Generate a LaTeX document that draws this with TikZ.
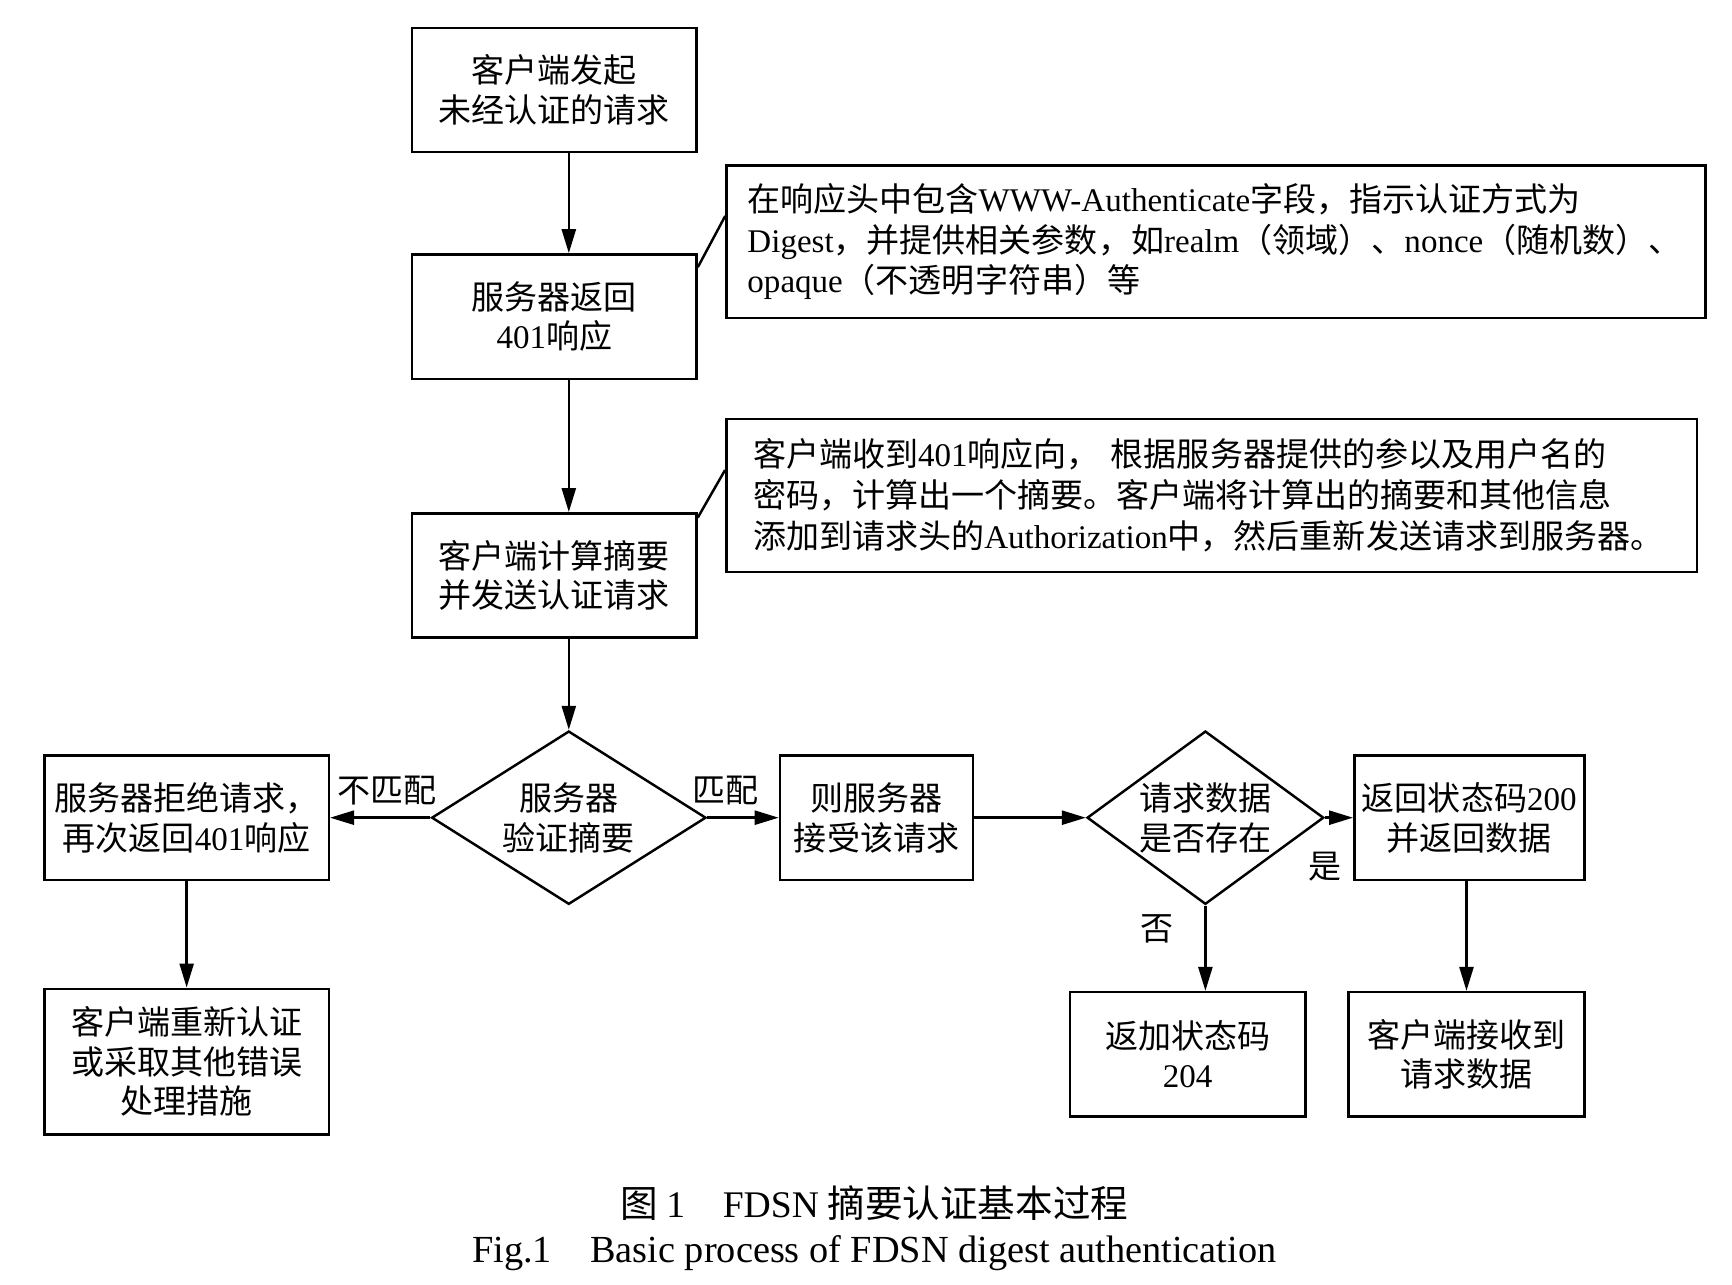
\documentclass[tikz,border=0pt]{standalone}
\usepackage{fontspec}
\setmainfont{Liberation Serif}
\newfontfamily\cjk{Noto Sans CJK SC}
\usetikzlibrary{shapes.geometric,arrows.meta}
\newcommand{\en}[1]{{\rmfamily#1}}

\tikzset{
  box/.style={draw, line width=0.7pt, minimum width=28.44mm, minimum height=12.44mm, inner sep=0pt, align=center, font=\cjk\fontsize{9.4}{11.3}\selectfont},
  note/.style={draw, line width=0.7pt, minimum height=15.22mm, align=left, font=\cjk\fontsize{9.4}{11.6}\selectfont},
  decide/.style={draw, diamond, line width=0.7pt, inner sep=0pt, minimum height=17.33mm, align=center, font=\cjk\fontsize{9.4}{11.3}\selectfont},
  arr/.style={-{Triangle[length=2.4mm,width=1.4mm]}, line width=0.7pt},
  lbl/.style={font=\cjk\fontsize{9.4}{11.3}\selectfont},
}

\begin{document}
\begin{tikzpicture}[x=0.1111mm, y=-0.1111mm]
\useasboundingbox (0,0) rectangle (1559,1156);

% main column
\node[box] (start) at (499, 81) {客户端发起\\未经认证的请求};
\node[box] (ret401) at (499, 285) {服务器返回\\\en{401}响应};
\node[box] (comp) at (499, 518) {客户端计算摘要\\并发送认证请求};
\node[decide, aspect=1.6, minimum width=27.44mm] (verify) at (512, 736) {服务器\\验证摘要};

% notes
\node[note, minimum width=97.9mm, text width=93.7mm, inner xsep=2.1mm] (note1) at (1094.5, 217.5)
  {在响应头中包含\en{WWW-Authenticate}字段，指示认证方式为\\
   \en{Digest}，并提供相关参数，如\en{realm}（领域）、\en{nonce}（随机数）、\\
   \en{opaque}（不透明字符串）等};
\node[note, minimum width=97.0mm, text width=91.7mm, inner xsep=2.67mm, minimum height=15.33mm] (note2) at (1090.5, 446)
  {客户端收到\en{401}响应向，~根据服务器提供的参以及用户名的\\
   密码，计算出一个摘要。客户端将计算出的摘要和其他信息\\
   添加到请求头的\en{Authorization}中，然后重新发送请求到服务器。};

% left branch
\node[box] (reject) at (168, 736) {服务器拒绝请求，\\再次返回\en{401}响应};
\node[box, minimum height=14.56mm] (retry) at (168, 955.5) {客户端重新认证\\或采取其他错误\\处理措施};

% right branch
\node[box, minimum width=19.33mm] (accept) at (789, 736) {则服务器\\接受该请求};
\node[decide, aspect=1.37, minimum width=23.67mm] (exist) at (1085, 736) {请求数据\\是否存在};
\node[box, minimum width=23.0mm] (ok200) at (1322.5, 736) {返回状态码\en{200}\\并返回数据};
\node[box, minimum width=23.56mm] (no204) at (1069, 949) {返加状态码\\\en{204}};
\node[box, minimum width=23.56mm] (recv) at (1320, 949) {客户端接收到\\请求数据};

% connectors
\draw[arr] (start.south -| verify.north) -- (ret401.north -| verify.north);
\draw[arr] (ret401.south -| verify.north) -- (comp.north -| verify.north);
\draw[arr] (comp.south -| verify.north) -- (verify.north);
\draw[line width=0.7pt] (ret401.19) -- (note1.177);
\draw[line width=0.7pt] (comp.22) -- (note2.177);
\draw[arr] (verify.west) -- node[lbl, above, pos=0.43] {不匹配} (reject.east);
\draw[arr] (verify.east) -- node[lbl, above, pos=0.25] {匹配} (accept.west);
\draw[arr] (reject.south) -- (retry.north);
\draw[arr] (accept.east) -- (exist.west);
\draw[arr] (exist.east) -- node[lbl, below, pos=0, yshift=-2.1mm] {是} (ok200.west);
\draw[arr] (exist.south) -- node[lbl, left, pos=0.27, xshift=-1.9mm] {否} (exist.south |- no204.north);
\draw[arr] (ok200.south -| recv.north) -- (recv.north);

% caption
\node[font=\cjk\fontsize{10.7}{13}\selectfont] (cap) at (787, 1083) {图~\en{1}\quad\en{FDSN}~摘要认证基本过程};
\node[font=\fontsize{10.9}{13}\selectfont] (capen) at (787, 1128) {Fig.1\quad Basic process of FDSN digest authentication};
\end{tikzpicture}
\end{document}
